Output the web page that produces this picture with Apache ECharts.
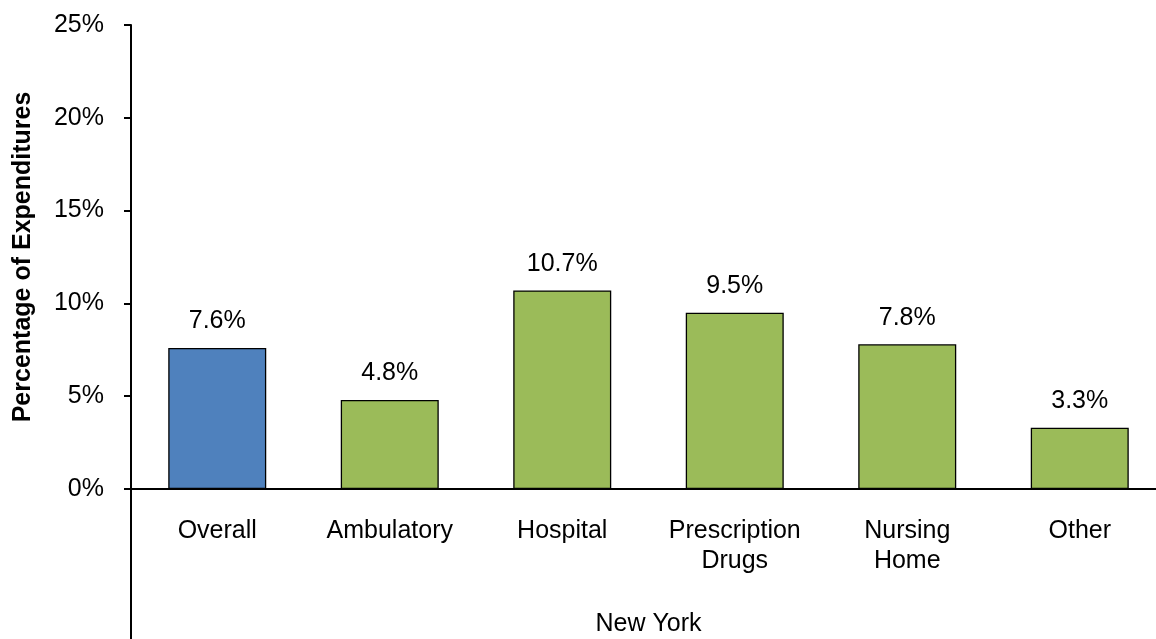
<!DOCTYPE html>
<html>
<head>
<meta charset="utf-8">
<script src="https://cdn.jsdelivr.net/npm/echarts@6/dist/echarts.min.js"></script>
<style>
  html, body { margin: 0; padding: 0; background: #fff; }
  #chart { width: 1156px; height: 639px; }
</style>
</head>
<body>
<div id="chart"></div>
<script>
// ---- Data ----
const categories = ['Overall', 'Ambulatory', 'Hospital', 'Prescription\nDrugs', 'Nursing\nHome', 'Other'];
const values = [7.6, 4.8, 10.7, 9.5, 7.8, 3.3];
const groupLabels = ['New York'];
const yTicks = { min: 0, max: 25, interval: 5 };

// ---- Styles ----
const FONT = "'Liberation Sans', Arial, sans-serif";
const FS = 25;
const BLUE = '#4F81BD';
const GREEN = '#9BBB59';

const chart = echarts.init(document.getElementById('chart'), null, { renderer: 'canvas' });

const barData = values.map((v, i) => ({
  value: v,
  itemStyle: { color: i === 0 ? BLUE : GREEN }
}));

chart.setOption({
  backgroundColor: '#fff',
  animation: false,
  grid: { left: 131, width: 1035, top: 25, bottom: 150, containLabel: false, outerBoundsMode: 'none' },
  xAxis: [
    {
      type: 'category',
      data: categories,
      position: 'bottom',
      axisLine: { show: true, lineStyle: { color: '#000', width: 2 } },
      axisTick: { show: false },
      axisLabel: {
        color: '#000', fontFamily: FONT, fontSize: FS,
        lineHeight: 30, margin: 27, interval: 0
      },
      splitLine: { show: false }
    },
    {
      type: 'category',
      data: groupLabels,
      position: 'bottom',
      offset: 150,
      axisLine: { show: false },
      axisTick: { show: true, inside: true, length: 150, lineStyle: { color: '#000', width: 2 } },
      axisLabel: {
        inside: true, color: '#000', fontFamily: FONT, fontSize: FS, margin: 2
      },
      splitLine: { show: false }
    }
  ],
  yAxis: {
    type: 'value',
    min: yTicks.min,
    max: yTicks.max,
    interval: yTicks.interval,
    name: 'Percentage of Expenditures',
    nameLocation: 'middle',
    nameGap: 95,
    nameTextStyle: { color: '#000', fontFamily: FONT, fontSize: FS, fontWeight: 'bold' },
    axisLine: { show: true, lineStyle: { color: '#000', width: 2 } },
    axisTick: { show: true, length: 7, lineStyle: { color: '#000', width: 2 } },
    axisLabel: {
      color: '#000', fontFamily: FONT, fontSize: FS, margin: 27,
      formatter: '{value}%'
    },
    splitLine: { show: false }
  },
  series: [
    {
      type: 'bar',
      xAxisIndex: 0,
      data: barData,
      barWidth: 98,
      itemStyle: { borderColor: '#000', borderWidth: 1.3 },
      label: {
        show: true,
        position: 'top',
        distance: 14,
        color: '#000',
        fontFamily: FONT,
        fontSize: FS,
        formatter: p => p.value.toFixed(1) + '%'
      }
    }
  ]
});
</script>
</body>
</html>
